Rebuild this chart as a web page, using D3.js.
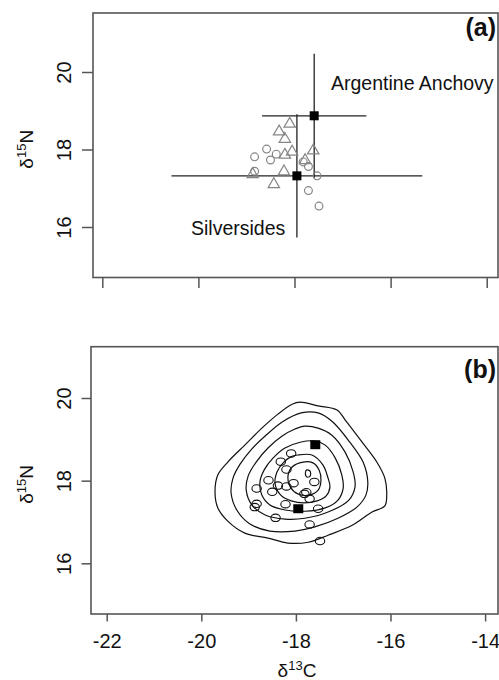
<!DOCTYPE html>
<html><head><meta charset="utf-8">
<script src="https://cdn.jsdelivr.net/npm/d3@7"></script>
<style>
html,body{margin:0;padding:0;background:#fff;}
svg{display:block;font-family:"Liberation Sans",Arial,sans-serif;}
</style></head>
<body><svg id="chart" width="499" height="680"></svg>
<script>
// ---------- data ----------
const xTicks = [-22, -20, -18, -16, -14];
const yTicks = [16, 18, 20];

// individual samples (panel a: open grey symbols; panel b: open black circles)
const circleC = [-18.83, -18.58, -18.38, -18.50, -18.83, -17.82, -17.71, -17.53, -17.71, -17.49];
const circleN = [17.81, 18.01, 17.88, 17.73, 17.44, 17.68, 17.56, 17.32, 16.94, 16.54];
const triangleC = [-18.10, -18.32, -18.20, -18.05, -18.20, -17.61, -17.78, -18.22, -18.87, -18.43];
const triangleN = [18.66, 18.46, 18.27, 17.94, 17.86, 17.97, 17.72, 17.43, 17.36, 17.10];

// prey means +- SD
const preyNames = ["Argentine Anchovy", "Silversides"];
const preyMeanC = [-17.59, -17.95];
const preyMeanN = [18.87, 17.32];
const preySdC = [1.085, 2.61];
const preySdN = [1.60, 1.59];

// density contours (panel b), outer to inner, [d13C, d15N]
const contour1 = [[-17.91,19.90],[-17.53,19.81],[-17.13,19.71],[-16.94,19.44],[-16.60,18.93],[-16.29,18.45],[-16.12,18.06],[-16.08,17.65],[-16.12,17.39],[-16.39,17.24],[-16.81,16.92],[-17.32,16.68],[-17.74,16.51],[-18.17,16.49],[-18.59,16.61],[-19.08,16.73],[-19.44,17.02],[-19.65,17.34],[-19.71,17.72],[-19.65,18.14],[-19.44,18.45],[-19.08,18.86],[-18.72,19.27],[-18.38,19.61],[-18.08,19.85]];
const contour2 = [[-17.89,19.64],[-17.53,19.64],[-17.22,19.42],[-16.86,18.93],[-16.58,18.45],[-16.48,17.97],[-16.52,17.65],[-16.71,17.36],[-17.11,17.09],[-17.60,16.88],[-18.02,16.78],[-18.55,16.78],[-18.97,16.95],[-19.25,17.29],[-19.37,17.70],[-19.33,18.06],[-19.18,18.40],[-18.93,18.77],[-18.65,19.08],[-18.29,19.42]];
const contour3 = [[-17.81,19.32],[-17.53,19.27],[-17.24,19.10],[-16.96,18.69],[-16.79,18.21],[-16.75,17.85],[-16.88,17.53],[-17.32,17.24],[-17.81,17.09],[-18.23,17.07],[-18.65,17.17],[-18.93,17.41],[-19.05,17.77],[-19.01,18.11],[-18.84,18.45],[-18.59,18.79],[-18.29,19.08],[-18.02,19.25]];
const contour4 = [[-17.91,18.93],[-17.60,18.96],[-17.38,18.86],[-17.17,18.55],[-17.03,18.14],[-17.00,17.82],[-17.11,17.53],[-17.38,17.34],[-17.81,17.26],[-18.23,17.29],[-18.55,17.41],[-18.72,17.65],[-18.76,17.97],[-18.67,18.26],[-18.48,18.55],[-18.23,18.79]];
const contour5 = [[-17.96,18.62],[-17.66,18.62],[-17.43,18.38],[-17.32,18.06],[-17.28,17.85],[-17.36,17.63],[-17.55,17.51],[-17.83,17.46],[-18.10,17.51],[-18.32,17.65],[-18.44,17.92],[-18.40,18.21],[-18.27,18.43],[-18.12,18.57]];
const contour6 = [[-17.85,18.45],[-17.64,18.43],[-17.51,18.26],[-17.47,18.01],[-17.53,17.77],[-17.72,17.65],[-17.96,17.68],[-18.12,17.85],[-18.17,18.09],[-18.08,18.33]];
const contour7 = [[-17.77,18.26],[-17.70,18.23],[-17.70,18.11],[-17.77,18.09],[-17.80,18.17]];
const contours = [contour1, contour2, contour3, contour4, contour5, contour6, contour7];

// ---------- drawing ----------
const svg = d3.select("#chart");
svg.append("rect").attr("width", 499).attr("height", 680).attr("fill", "#fff");

const boxCol = "#555";
const font = 19;

function panel(cfg) {
  const g = svg.append("g");
  const x = d3.scaleLinear().domain([-22, -14]).range(cfg.xr);
  const y = d3.scaleLinear().domain([16, 20]).range(cfg.yr);
  // box
  g.append("rect").attr("x", cfg.box[0]).attr("y", cfg.box[1])
    .attr("width", cfg.box[2] - cfg.box[0]).attr("height", cfg.box[3] - cfg.box[1])
    .attr("fill", "none").attr("stroke", boxCol).attr("stroke-width", 1.6);
  // x ticks
  const xa = g.append("g").attr("transform", `translate(0,${cfg.box[3]})`)
    .call(d3.axisBottom(x).tickValues(xTicks).tickSize(cfg.xtick).tickSizeOuter(0)
      .tickFormat(cfg.xlabels ? (d => String(d)) : () => ""));
  xa.select(".domain").remove();
  xa.selectAll(".tick line").attr("stroke", boxCol).attr("stroke-width", 1.5);
  xa.selectAll(".tick text").attr("font-size", 20).attr("fill", "#111")
    .attr("font-family", "Liberation Sans, Arial, sans-serif").attr("dy", "0").attr("y", cfg.xlabY);
  // y ticks
  const ya = g.append("g").attr("transform", `translate(${cfg.box[0]},0)`)
    .call(d3.axisLeft(y).tickValues(yTicks).tickSize(cfg.ytick).tickSizeOuter(0).tickFormat(d3.format("d")));
  ya.select(".domain").remove();
  ya.selectAll(".tick line").attr("stroke", boxCol).attr("stroke-width", 1.5);
  ya.selectAll(".tick text").attr("font-size", 20).attr("fill", "#111")
    .attr("font-family", "Liberation Sans, Arial, sans-serif")
    .attr("x", 0).attr("dy", 0)
    .attr("text-anchor", "middle")
    .attr("transform", `translate(${-cfg.box[0] + 71},0) rotate(-90)`);
  // y title
  const yt = g.append("text")
    .attr("transform", `translate(33,${(cfg.box[1] + cfg.box[3]) / 2 + 4}) rotate(-90)`)
    .attr("text-anchor", "middle").attr("font-size", font).attr("fill", "#111");
  yt.append("tspan").text("δ");
  yt.append("tspan").attr("font-size", 13).attr("dy", -7).text("15");
  yt.append("tspan").attr("dy", 7).text("N");
  // panel letter
  g.append("text").attr("x", 496).attr("y", cfg.letterY).attr("text-anchor", "end")
    .attr("font-size", 25).attr("font-weight", "bold").attr("fill", "#111").text(cfg.letter);
  return {g, x, y};
}

// ----- panel (a) -----
const A = panel({xr: [102.3, 486.7], yr: [227, 72], box: [93, 13, 498, 277.5],
  xtick: 10.5, ytick: 11, xlabels: false, xlabY: 0, letter: "(a)", letterY: 36});

const grey = "#858585";
// error bars
preyNames.forEach((n, i) => {
  A.g.append("line").attr("x1", A.x(preyMeanC[i] - preySdC[i])).attr("x2", A.x(preyMeanC[i] + preySdC[i]))
    .attr("y1", A.y(preyMeanN[i])).attr("y2", A.y(preyMeanN[i])).attr("stroke", "#222").attr("stroke-width", 1.3);
  A.g.append("line").attr("x1", A.x(preyMeanC[i])).attr("x2", A.x(preyMeanC[i]))
    .attr("y1", A.y(preyMeanN[i] - preySdN[i])).attr("y2", A.y(preyMeanN[i] + preySdN[i]))
    .attr("stroke", "#222").attr("stroke-width", 1.3);
});
// circles
A.g.selectAll("circle.s").data(d3.range(circleC.length)).join("circle")
  .attr("cx", i => A.x(circleC[i])).attr("cy", i => A.y(circleN[i])).attr("r", 3.9)
  .attr("fill", "none").attr("stroke", grey).attr("stroke-width", 1.2);
// triangles
const tri = d3.symbol().type(d3.symbolTriangle).size(56);
A.g.selectAll("path.t").data(d3.range(triangleC.length)).join("path")
  .attr("d", tri).attr("transform", i => `translate(${A.x(triangleC[i])},${A.y(triangleN[i])})`)
  .attr("fill", "none").attr("stroke", grey).attr("stroke-width", 1.2);
// means
A.g.selectAll("rect.m").data(d3.range(preyNames.length)).join("rect")
  .attr("x", i => A.x(preyMeanC[i]) - 4.5).attr("y", i => A.y(preyMeanN[i]) - 4.5)
  .attr("width", 9).attr("height", 9).attr("fill", "#000");
// labels
A.g.append("text").attr("x", 331).attr("y", 90).attr("font-size", 19.5).attr("fill", "#111").text(preyNames[0]);
A.g.append("text").attr("x", 191).attr("y", 235).attr("font-size", 19.5).attr("fill", "#111").text(preyNames[1]);

// ----- panel (b) -----
const B = panel({xr: [106.7, 485.1], yr: [563.3, 398], box: [91, 346.7, 498, 614],
  xtick: 7.5, ytick: 9.5, xlabels: true, xlabY: 34, letter: "(b)", letterY: 378});

const line = d3.line().x(d => B.x(d[0])).y(d => B.y(d[1])).curve(d3.curveCatmullRomClosed.alpha(0.5));
B.g.selectAll("path.c").data(contours).join("path")
  .attr("d", line).attr("fill", "none").attr("stroke", "#111").attr("stroke-width", 1.2);

const allC = circleC.concat(triangleC), allN = circleN.concat(triangleN);
B.g.selectAll("ellipse").data(d3.range(allC.length)).join("ellipse")
  .attr("cx", i => B.x(allC[i])).attr("cy", i => B.y(allN[i])).attr("rx", 4.7).attr("ry", 3.7)
  .attr("fill", "none").attr("stroke", "#111").attr("stroke-width", 1.1);
B.g.selectAll("rect.m").data(d3.range(preyNames.length)).join("rect")
  .attr("x", i => B.x(preyMeanC[i]) - 5).attr("y", i => B.y(preyMeanN[i]) - 4.5)
  .attr("width", 10).attr("height", 9).attr("fill", "#000");

// x title
const xt = svg.append("text").attr("x", 297).attr("y", 677).attr("text-anchor", "middle")
  .attr("font-size", font).attr("fill", "#111");
xt.append("tspan").text("δ");
xt.append("tspan").attr("font-size", 13).attr("dy", -7).text("13");
xt.append("tspan").attr("dy", 7).text("C");
</script></body></html>
